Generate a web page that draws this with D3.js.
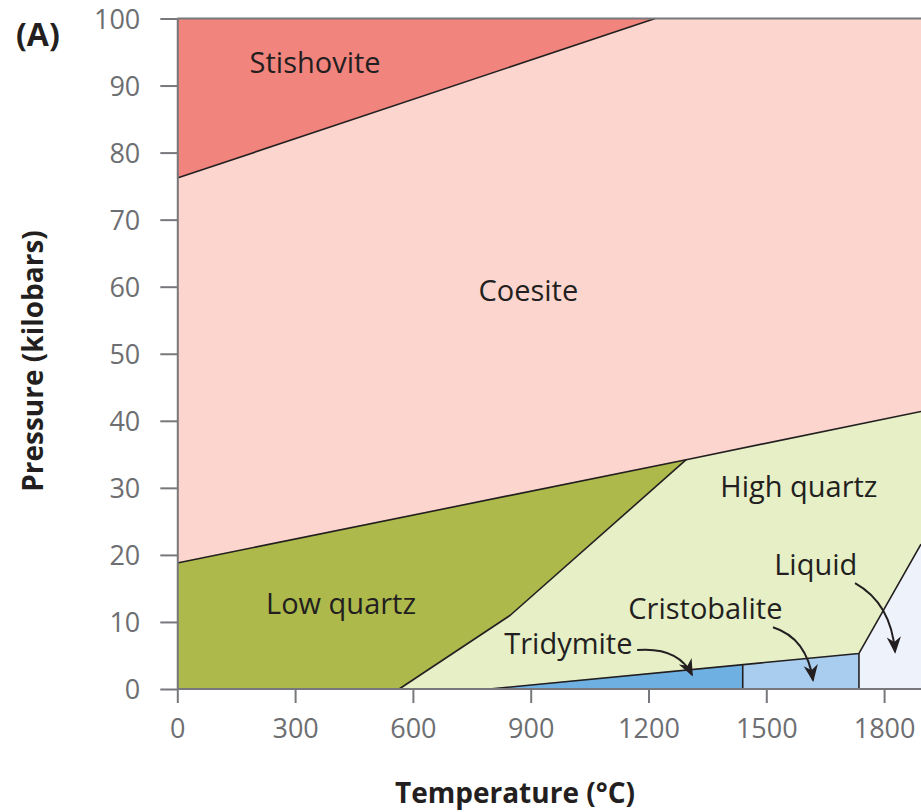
<!DOCTYPE html>
<html>
<head>
<meta charset="utf-8">
<script src="https://cdn.jsdelivr.net/npm/d3@7"></script>
<style>
  html, body { margin: 0; padding: 0; background: #fff; }
  svg { display: block; }
  text { font-family: "Open Sans", "Noto Sans", sans-serif; }
</style>
</head>
<body>
<svg id="chart" width="921" height="812"></svg>
<script>
// ---- Data (temperature °C, pressure kbar) ----
const xTicks = [0, 300, 600, 900, 1200, 1500, 1800];
const yTicks = [0, 10, 20, 30, 40, 50, 60, 70, 80, 90, 100];

const stishovite   = [[0, 76.2], [1217, 100], [0, 100]];
const coesite      = [[0, 18.8], [1296, 34.2], [1894, 41.4], [1894, 100], [1217, 100], [0, 76.2]];
const lowQuartz    = [[0, 0], [565, 0], [848, 11], [1296, 34.2], [0, 18.8]];
const highQuartz   = [[565, 0], [795, 0], [1736, 5.3], [1894, 21.6], [1894, 41.4], [1296, 34.2], [848, 11]];
const tridymite    = [[795, 0], [1440, 0], [1440, 3.63], [795, 0]];
const cristobalite = [[1440, 0], [1736, 0], [1736, 5.3], [1440, 3.63]];
const liquid       = [[1736, 0], [1894, 0], [1894, 21.6], [1736, 5.3]];

const boundaries = [
  [[0, 76.2], [1217, 100]],
  [[0, 18.8], [1296, 34.2], [1894, 41.4]],
  [[565, 0], [848, 11], [1296, 34.2]],
  [[795, 0], [1736, 5.3], [1894, 21.6]],
  [[1440, 0], [1440, 3.63]],
  [[1736, 0], [1736, 5.3]]
];

const regionNames  = ["Stishovite", "Coesite", "Low quartz", "High quartz", "Tridymite", "Cristobalite", "Liquid"];
const regionPolys  = [stishovite, coesite, lowQuartz, highQuartz, tridymite, cristobalite, liquid];
const regionColors = ["#f1847d", "#fcd6ce", "#adb94b", "#e6efc6", "#6fb0e2", "#a9cdef", "#eef2fb"];

// labels: [text, T, P, anchor]
const labels = [
  ["Stishovite", 351, 91.8, "middle"],
  ["Coesite", 894, 57.9, "middle"],
  ["High quartz", 1583, 28.7, "middle"],
  ["Low quartz", 417, 11.2, "middle"],
  ["Liquid", 1626, 17.0, "middle"],
  ["Cristobalite", 1345, 10.4, "middle"],
  ["Tridymite", 996, 5.2, "middle"]
];

// arrows: start, control, end (data coords)
const arrows = [
  [[1171, 5.8], [1275, 6.3], [1311, 2.1]],
  [[1517, 9.2], [1603, 7.6], [1619, 1.3]],
  [[1726, 15.8], [1818, 12.8], [1828, 5.5]]
];

// ---- Scales ----
const svg = d3.select("#chart");
const x = d3.scaleLinear().domain([0, 1894]).range([177.3, 921]);
const y = d3.scaleLinear().domain([0, 100]).range([689, 18.5]);

const line = d3.line().x(d => x(d[0])).y(d => y(d[1]));

// regions
svg.append("g").selectAll("path").data(regionPolys).join("path")
  .attr("d", d => line(d) + "Z")
  .attr("fill", (d, i) => regionColors[i])
  .attr("stroke", (d, i) => regionColors[i])
  .attr("stroke-width", 0.5);

// boundaries
svg.append("g").selectAll("path").data(boundaries).join("path")
  .attr("d", line)
  .attr("fill", "none")
  .attr("stroke", "#231f20")
  .attr("stroke-width", 1.6)
  .attr("stroke-linejoin", "round");

// axes
const axisColor = "#77787b";
const gx = svg.append("g").attr("transform", `translate(0,${y(0)})`)
  .call(d3.axisBottom(x).tickValues(xTicks).tickFormat(d3.format("d"))
    .tickSize(14).tickSizeOuter(0).tickPadding(16));
const gy = svg.append("g").attr("transform", `translate(${x(0)},0)`)
  .call(d3.axisLeft(y).tickValues(yTicks).tickFormat(d3.format("d"))
    .tickSize(17).tickSizeOuter(0).tickPadding(20));

[gx, gy].forEach(g => {
  g.select(".domain").attr("stroke", axisColor).attr("stroke-width", 2);
  g.selectAll(".tick line").attr("stroke", axisColor).attr("stroke-width", 2);
  g.selectAll(".tick text").attr("fill", "#6d6e71")
    .style("font-family", "'Open Sans', sans-serif").style("font-size", "27px");
});
gy.selectAll(".tick text").attr("dy", "0.36em");
gx.select(".domain").attr("d", `M${x(0)},0H921`);

// top frame line
svg.append("line")
  .attr("x1", x(0)).attr("x2", 921)
  .attr("y1", y(100)).attr("y2", y(100))
  .attr("stroke", axisColor).attr("stroke-width", 2);

// region labels
svg.append("g").selectAll("text").data(labels).join("text")
  .attr("x", d => x(d[1])).attr("y", d => y(d[2]))
  .attr("text-anchor", d => d[3])
  .attr("fill", "#231f20")
  .style("font-size", "29px")
  .text(d => d[0]);

// arrow marker
svg.append("defs").append("marker")
  .attr("id", "ah2").attr("viewBox", "0 0 10 10")
  .attr("refX", 9).attr("refY", 5)
  .attr("markerWidth", 17).attr("markerHeight", 17)
  .attr("markerUnits", "userSpaceOnUse")
  .attr("orient", "auto")
  .append("path").attr("d", "M0,0.8L10,5L0,9.2L3,5Z").attr("fill", "#231f20");

svg.append("g").selectAll("path").data(arrows).join("path")
  .attr("d", d => `M${x(d[0][0])},${y(d[0][1])}Q${x(d[1][0])},${y(d[1][1])} ${x(d[2][0])},${y(d[2][1])}`)
  .attr("fill", "none")
  .attr("stroke", "#231f20")
  .attr("stroke-width", 2)
  .attr("marker-end", "url(#ah2)");

// titles
svg.append("text").attr("x", 16).attr("y", 46)
  .style("font-size", "32px").style("font-weight", "bold")
  .attr("fill", "#231f20").text("(A)");

svg.append("text")
  .attr("transform", `translate(43,${361}) rotate(-90)`)
  .attr("text-anchor", "middle")
  .style("font-size", "28px").style("font-weight", "bold")
  .attr("fill", "#231f20").text("Pressure (kilobars)");

svg.append("text")
  .attr("x", 515).attr("y", 803)
  .attr("text-anchor", "middle")
  .style("font-size", "28px").style("font-weight", "bold")
  .attr("fill", "#231f20").text("Temperature (°C)");
</script>
</body>
</html>
